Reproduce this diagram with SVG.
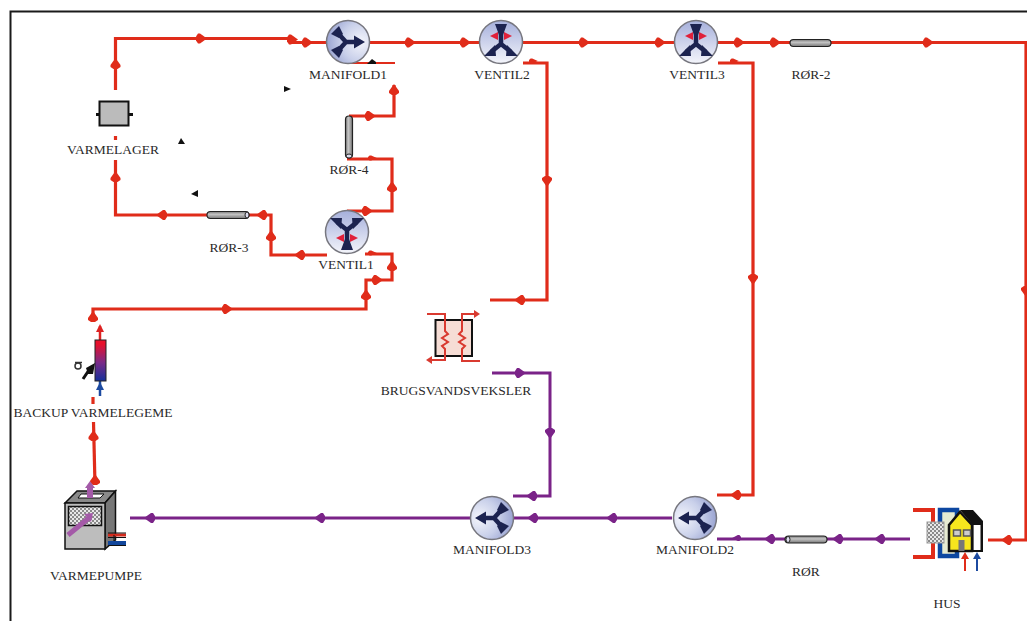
<svg xmlns="http://www.w3.org/2000/svg" xmlns:xlink="http://www.w3.org/1999/xlink" width="1027" height="621" viewBox="0 0 1027 621">
<style>
.l{font-family:"Liberation Serif","Times New Roman",serif;font-size:13.5px;fill:#2a2a2a;text-anchor:middle}
.r{fill:none;stroke:#e02c1a;stroke-width:3.2}
.p{fill:none;stroke:#7a2388;stroke-width:3}
.ra{fill:#e02c1a}
.pa{fill:#7a2388}
.valve{stroke:#77777f;stroke-width:1.5}
.nv{fill:none;stroke:#1c2350;stroke-width:4.500}
.nh{fill:#1c2350}
.pipe{fill:url(#pipeG);stroke:#222;stroke-width:1.2}
.end{fill:#dde;stroke:#222;stroke-width:1}
</style>
<defs>
<radialGradient id="manG" cx="0.8" cy="0.5" r="0.9"><stop offset="0" stop-color="#f4f5fb"/><stop offset="0.5" stop-color="#c9d0ea"/><stop offset="1" stop-color="#8c97cb"/></radialGradient>
<radialGradient id="manL" cx="0.2" cy="0.5" r="0.9"><stop offset="0" stop-color="#f4f5fb"/><stop offset="0.5" stop-color="#c9d0ea"/><stop offset="1" stop-color="#8c97cb"/></radialGradient>
<linearGradient id="venG" x1="0" y1="0" x2="0" y2="1"><stop offset="0" stop-color="#a5afdb"/><stop offset="1" stop-color="#f4f5fb"/></linearGradient>
<linearGradient id="pipeG" x1="0" y1="0" x2="0" y2="1"><stop offset="0" stop-color="#777"/><stop offset="0.4" stop-color="#c4c4c4"/><stop offset="1" stop-color="#777"/></linearGradient>
<linearGradient id="pipeV" x1="0" y1="0" x2="1" y2="0"><stop offset="0" stop-color="#777"/><stop offset="0.4" stop-color="#c8c8c8"/><stop offset="1" stop-color="#777"/></linearGradient>
<linearGradient id="bk" x1="0" y1="0" x2="0" y2="1"><stop offset="0.1" stop-color="#e8102a"/><stop offset="0.55" stop-color="#7a2a88"/><stop offset="1" stop-color="#15309a"/></linearGradient>
<pattern id="chk" width="4" height="4" patternUnits="userSpaceOnUse"><rect width="4" height="4" fill="#e8e8e8"/><rect width="2" height="2" fill="#8a8a8a"/><rect x="2" y="2" width="2" height="2" fill="#8a8a8a"/></pattern>
<path id="a" d="M6,0 L-1,-5 L-3,-5 L-5,-2 V2 L-3,5 L-1,5Z"/>
<g id="manifold">
<path class="nv" d="M-11,-11 L-1,0 L-11,11 M-1,0 L9,0"/>
<path class="nh" d="M7,-6.500 L18,0 L7,6.500Z M-16,-8 L-8,-16 L-4,-8 L-8,-4Z M-16,8 L-8,16 L-4,8 L-8,4Z"/>
</g>
<g id="ventil">
<path class="nv" d="M0,-11 L0,1 M0,1 L-10,9 M0,1 L10,9"/>
<path class="nh" d="M-6,-19 L6,-19 L2,-8 H-2Z M-17,13 L-6,2 L-5,13Z M17,13 L6,2 L5,13Z"/>
<path fill="#e0203a" d="M-11,-7 L-3,-11 L-3,-3Z M11,-7 L3,-11 L3,-3Z"/>
</g>
</defs>
<rect width="1027" height="621" fill="#fff"/>
<path d="M1027,11.500 H10.500 V621" fill="none" stroke="#1a1a1a" stroke-width="2"/>

<g id="connectors">
<path class="r" d="M115.500,90 V38.500 H292 V42.500 H326"/>
<path class="r" d="M370,42.500 H790"/>
<path class="r" d="M831,42.500 H1026 V540 H988"/>
<path class="r" d="M523,63 H547 V300 H490"/>
<path class="r" d="M718,63 H753 V495 H717"/>
<path class="r" d="M115.500,160 V215 H207"/>
<path class="r" d="M115.500,136 V140" />
<path class="r" d="M249,215 H271 V255 H327"/>
<path class="r" d="M347,211 H392 V159 H347"/>
<path class="r" d="M349,116 H394 V85"/>
<path class="r" d="M347,63 H395" style="stroke-width:2"/>
<path class="r" d="M365,254 H392 V280 H366 V309 H93 V320"/>
<path class="r" d="M93,397 V404"/>
<path class="r" d="M93.500,422 L95,485"/>
<path class="p" d="M672,518 H130"/>
<path class="p" d="M492,373 H550 V496 H513"/>
<path class="p" d="M717,539 H785"/>
<path class="p" d="M827,539 H910"/>
<g class="ra">
<use xlink:href="#a" transform="translate(201,38.500)"/>
<use xlink:href="#a" transform="translate(292,39.500)"/>
<use xlink:href="#a" transform="translate(307,42.500)"/>
<use xlink:href="#a" transform="translate(115.500,64) rotate(-90)"/>
<use xlink:href="#a" transform="translate(410,42.500)"/>
<use xlink:href="#a" transform="translate(465,42.500)"/>
<use xlink:href="#a" transform="translate(584,42.500)"/>
<use xlink:href="#a" transform="translate(660,42.500)"/>
<use xlink:href="#a" transform="translate(739,42.500)"/>
<use xlink:href="#a" transform="translate(775,42.500)"/>
<use xlink:href="#a" transform="translate(928,42.500)"/>
<use xlink:href="#a" transform="translate(1026,291) rotate(90)"/>
<use xlink:href="#a" transform="translate(1007,540) rotate(180)"/>
<use xlink:href="#a" transform="translate(533,61) scale(.8,.5)"/>
<use xlink:href="#a" transform="translate(547,181) rotate(90)"/>
<use xlink:href="#a" transform="translate(520,300) rotate(180)"/>
<use xlink:href="#a" transform="translate(734,61) scale(.8,.5)"/>
<use xlink:href="#a" transform="translate(753,279) rotate(90)"/>
<use xlink:href="#a" transform="translate(736,495) rotate(180)"/>
<use xlink:href="#a" transform="translate(115.500,177) rotate(-90)"/>
<use xlink:href="#a" transform="translate(162,215) rotate(180)"/>
<use xlink:href="#a" transform="translate(262,215) rotate(180)"/>
<use xlink:href="#a" transform="translate(271,236) rotate(-90)"/>
<use xlink:href="#a" transform="translate(300,255) rotate(180)"/>
<use xlink:href="#a" transform="translate(367,211)"/>
<use xlink:href="#a" transform="translate(392,187) rotate(-90)"/>
<use xlink:href="#a" transform="translate(372,158) scale(.8,.5)"/>
<use xlink:href="#a" transform="translate(370,116)"/>
<use xlink:href="#a" transform="translate(394,90) rotate(-90)"/>
<use xlink:href="#a" transform="translate(372,253) scale(.8,.5)"/>
<use xlink:href="#a" transform="translate(392,266) rotate(-90)"/>
<use xlink:href="#a" transform="translate(377,280)"/>
<use xlink:href="#a" transform="translate(366,295) rotate(-90)"/>
<use xlink:href="#a" transform="translate(227,309)"/>
<use xlink:href="#a" transform="translate(93,317) rotate(-90)"/>
<use xlink:href="#a" transform="translate(93.500,436) rotate(-90)"/>
<use xlink:href="#a" transform="translate(95,480) rotate(-90)"/>
</g>
<g class="pa">
<use xlink:href="#a" transform="translate(612,518) rotate(180)"/>
<use xlink:href="#a" transform="translate(533,518) rotate(180)"/>
<use xlink:href="#a" transform="translate(320,518) rotate(180)"/>
<use xlink:href="#a" transform="translate(150,518) rotate(180)"/>
<use xlink:href="#a" transform="translate(520,373)"/>
<use xlink:href="#a" transform="translate(550,433) rotate(90)"/>
<use xlink:href="#a" transform="translate(532,496) rotate(180)"/>
<use xlink:href="#a" transform="translate(737,538) scale(.8,.6) rotate(180)"/>
<use xlink:href="#a" transform="translate(770,539) rotate(180)"/>
<use xlink:href="#a" transform="translate(838,539) rotate(180)"/>
<use xlink:href="#a" transform="translate(880,539) rotate(180)"/>
</g>
<path fill="#111" d="M367,64 L372,59 L376,62 L376,64Z"/>
</g>

<g id="stray-marks" fill="#111">
<path d="M284,86 L291,89 L284,92Z"/>
<path d="M181,138 L185,144 L178,144Z"/>
<path d="M191,194 L198,190 L198,197Z"/>
</g>

<g id="manifold1"><circle class="valve" cx="348" cy="42" r="21.500" fill="url(#manG)"/><use xlink:href="#manifold" transform="translate(347,42)"/><text class="l" x="348" y="79">MANIFOLD1</text></g>
<g id="ventil2"><circle class="valve" cx="501" cy="42" r="21.500" fill="url(#venG)"/><use xlink:href="#ventil" transform="translate(501,43)"/><text class="l" x="502" y="79">VENTIL2</text></g>
<g id="ventil3"><circle class="valve" cx="696" cy="42" r="21.500" fill="url(#venG)"/><use xlink:href="#ventil" transform="translate(696,43)"/><text class="l" x="697" y="79">VENTIL3</text></g>
<g id="ventil1"><circle class="valve" cx="347" cy="232" r="21.500" fill="url(#venG)"/><use xlink:href="#ventil" transform="translate(347,231) scale(1,-1)"/><text class="l" x="346" y="269">VENTIL1</text></g>
<g id="manifold2"><circle class="valve" cx="695" cy="518" r="21.500" fill="url(#manL)"/><use xlink:href="#manifold" transform="translate(696,518) scale(-1,1)"/><text class="l" x="695" y="554">MANIFOLD2</text></g>
<g id="manifold3"><circle class="valve" cx="492" cy="518" r="21.500" fill="url(#manL)"/><use xlink:href="#manifold" transform="translate(493,518) scale(-1,1)"/><text class="l" x="492" y="554">MANIFOLD3</text></g>

<g id="ror-2"><rect class="pipe" x="790" y="39.500" width="41" height="7" rx="3.500"/><text class="l" x="811" y="79">RØR-2</text></g>
<g id="ror"><rect class="pipe" x="785" y="536" width="42" height="7" rx="3.500"/><ellipse class="end" cx="788" cy="539.500" rx="2" ry="3"/><text class="l" x="806" y="576">RØR</text></g>
<g id="ror-3"><rect class="pipe" x="207" y="211.500" width="42" height="7" rx="3.500"/><ellipse class="end" cx="247" cy="215" rx="2" ry="3"/><text class="l" x="229" y="252">RØR-3</text></g>
<g id="ror-4"><rect x="345.500" y="116" width="7" height="42" rx="3.500" fill="url(#pipeV)" stroke="#222" stroke-width="1.200"/><ellipse class="end" cx="349" cy="156" rx="3" ry="2"/><text class="l" x="349" y="174">RØR-4</text></g>

<g id="varmelager"><rect x="99.500" y="101.500" width="29" height="24" fill="#bbb" stroke="#111" stroke-width="2"/><path d="M96,114.500 H100 M129,114.500 H133" stroke="#111" stroke-width="3"/><text class="l" x="113" y="154">VARMELAGER</text></g>

<g id="brugsvandsveksler">
<rect x="435.500" y="320" width="36.500" height="36" fill="#f6ddd5" stroke="#111" stroke-width="2"/>
<path d="M427,314 H445 V331 L448,334 L442,338 L448,342 L442,346 L445,349 V360 H431" fill="none" stroke="#d93a30" stroke-width="2"/>
<path d="M480,361 H462 V349 L465,346 L459,342 L465,338 L459,334 L462,331 V314 H475" fill="none" stroke="#d93a30" stroke-width="2"/>
<path fill="#d93a30" d="M474,310 L480,314 L474,318Z M432,356 L426,360 L432,364Z"/>
<text class="l" x="456" y="395">BRUGSVANDSVEKSLER</text>
</g>

<g id="backup-varmelegeme">
<path d="M100,340 V326" stroke="#d22" stroke-width="2.500" fill="none"/><path d="M100,324 L104,332 L96,332Z" fill="#d22"/>
<path d="M100,381 V396" stroke="#1c4aa0" stroke-width="2.500" fill="none"/><path d="M100,382 L104,390 L96,390Z" fill="#1c4aa0"/>
<rect x="95" y="340" width="11" height="41" fill="url(#bk)" stroke="#222" stroke-width="1"/>
<path d="M83,379 L89,370" stroke="#111" stroke-width="3" fill="none"/><path d="M86,368 L95,363 L93,374 L88,374Z" fill="#111"/>
<circle cx="78" cy="366" r="3" fill="none" stroke="#333" stroke-width="1.500"/><path d="M75,362.500 H82" stroke="#333" stroke-width="1.500"/>
<text class="l" x="93" y="417">BACKUP VARMELEGEME</text>
</g>

<g id="varmepumpe">
<path d="M65,503 L77,491 H115.500 L105,503Z" fill="#8a8a8a" stroke="#111" stroke-width="1.500"/>
<path d="M105,503 L115.500,491 V540 L105,549Z" fill="#777" stroke="#111" stroke-width="1.500"/>
<rect x="65" y="503" width="40" height="46" fill="#bdbdbd" stroke="#111" stroke-width="1.500"/>
<path d="M78,498 L81,494 H104 L100,498Z" fill="#fff" stroke="#111"/>
<rect x="68.500" y="506.500" width="33" height="19" fill="url(#chk)" stroke="#111" stroke-width="1.500"/>
<path d="M68,535 L90,517" stroke="#a45aa8" stroke-width="5" fill="none"/><path d="M84,514 L93,513 L91,522Z" fill="#a45aa8"/>
<path d="M90,498 V486" stroke="#a45aa8" stroke-width="6" fill="none"/><path d="M85,488 L90,481 L95,488Z" fill="#a45aa8"/>
<path d="M108,535 H126" stroke="#d42a1c" stroke-width="3"/><path d="M108,533 H126 M108,537.500 H126 M108,545.500 H126" stroke="#111" stroke-width="1"/>
<path d="M108,543 H126" stroke="#12479c" stroke-width="4"/><path d="M114,535 V541" stroke="#111"/>
<text class="l" x="96" y="580">VARMEPUMPE</text>
</g>

<g id="hus">
<path d="M913,510 H933 V557 H913" fill="none" stroke="#e02c1a" stroke-width="4"/>
<rect x="940" y="510" width="17" height="46" fill="#e6ebd2" stroke="#0d47a1" stroke-width="4.500"/>
<rect x="927" y="522" width="17" height="21" fill="url(#chk)" stroke="#999"/>
<path d="M960,510 H973 L983,521 V552 H972 V524Z" fill="#111"/>
<rect x="973.500" y="525" width="7" height="25" fill="#fff"/>
<path d="M960,512 L972,525 V551 H949 V525Z" fill="#f6e61e" stroke="#111" stroke-width="2.500"/>
<rect x="953.500" y="530" width="7" height="6" fill="#ccc" stroke="#555" stroke-width="1.500"/>
<rect x="963.500" y="530" width="7" height="6" fill="#ccc" stroke="#555" stroke-width="1.500"/>
<rect x="958.500" y="540" width="6" height="11" fill="#777"/>
<path d="M965,571 V558" stroke="#e02c1a" stroke-width="2"/><path d="M965,552 L969,559 L961,559Z" fill="#e02c1a"/>
<path d="M977,571 V558" stroke="#1c4aa0" stroke-width="2"/><path d="M977,552 L981,559 L973,559Z" fill="#1c4aa0"/>
<text class="l" x="947" y="608">HUS</text>
</g>
</svg>
